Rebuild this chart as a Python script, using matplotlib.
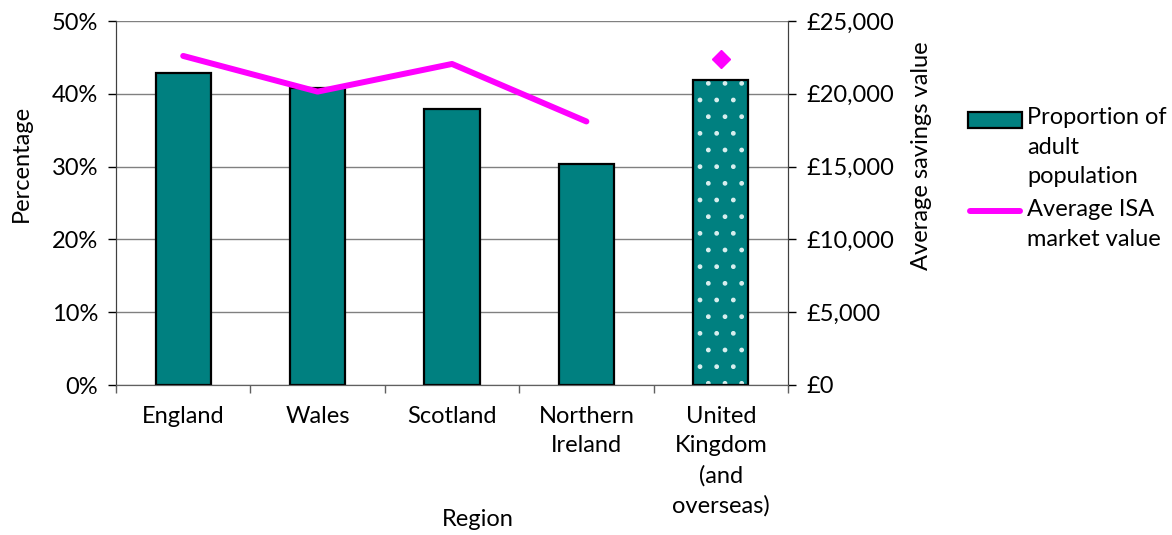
import matplotlib
matplotlib.use("Agg")
import matplotlib.pyplot as plt
from matplotlib.ticker import FuncFormatter, MultipleLocator
from matplotlib.patches import Rectangle
from matplotlib.lines import Line2D

plt.rcParams['font.family'] = ['Lato', 'DejaVu Sans']

categories = ["England", "Wales", "Scotland", "Northern\nIreland", "United\nKingdom\n(and\noverseas)"]
proportion = [42.8, 40.8, 37.9, 30.4, 41.9]          # percent of adult population
isa_value = [22600, 20150, 22050, 18100]             # regions (line)
uk_isa_value = 22400                                  # UK (diamond)
legend_labels = ["Proportion of\nadult\npopulation", "Average ISA\nmarket value"]

teal = "#008080"
magenta = "#FF00FF"
FS = 17
W, H = 1172, 535

fig = plt.figure(figsize=(W/100, H/100), dpi=100)
ax = fig.add_axes([116/W, 1 - 385/H, (788-116)/W, (385-21)/H])
ax2 = ax.twinx()

x = list(range(len(categories)))
w = 0.41
# regional bars
ax.bar(x[:4], proportion[:4], width=w, color=teal, edgecolor="black", linewidth=1.6, zorder=3)
# UK bar with dotted pattern
ax.bar(x[4], proportion[4], width=w, color=teal, edgecolor="#d8eeee", hatch=".", linewidth=0, zorder=3)
ax.bar(x[4], proportion[4], width=w, fill=False, edgecolor="black", linewidth=1.6, zorder=4)

ax.set_xlim(-0.5, len(categories) - 0.5)
ax.set_ylim(0, 50)
ax.yaxis.set_major_locator(MultipleLocator(10))
ax.yaxis.set_major_formatter(FuncFormatter(lambda v, p: f"{v:.0f}%"))
ax.grid(axis="y", color="#808080", linewidth=1.0, zorder=0)
ax.set_axisbelow(True)

ax.set_xticks(x)
ax.set_xticklabels(categories, fontsize=FS, linespacing=1.5)
ax.set_xticks([i - 0.5 for i in range(len(categories) + 1)], minor=True)
ax.tick_params(axis="x", which="major", length=0, pad=15)
ax.tick_params(axis="x", which="minor", length=6, width=1, color="#606060")
ax.tick_params(axis="y", labelsize=FS, length=6, width=1, pad=7)

ax2.plot(x[:4], isa_value, color=magenta, linewidth=4.3, solid_capstyle="round", zorder=5)
ax2.plot([x[4]], [uk_isa_value], linestyle="none", marker="D", color=magenta, markersize=9, zorder=5)
ax2.set_ylim(0, 25000)
ax2.yaxis.set_major_locator(MultipleLocator(5000))
ax2.yaxis.set_major_formatter(FuncFormatter(lambda v, p: f"£{v:,.0f}"))
ax2.tick_params(axis="y", labelsize=FS, length=6, width=1, pad=7)

for a in (ax, ax2):
    a.spines["top"].set_visible(False)
    a.spines["left"].set_color("#404040")
    a.spines["right"].set_color("#404040")
    a.spines["bottom"].set_color("#606060")

# axis titles
fig.text(21/W, 1 - 163/H, "Percentage", rotation=90, ha="center", va="center", fontsize=FS)
fig.text(922/W, 1 - 156/H, "Average savings value", rotation=90, ha="center", va="center", fontsize=FS)
fig.text(478/W, 1 - 520/H, "Region", ha="center", va="center", fontsize=FS)

# legend (drawn manually so handles align with first text line)
fig.add_artist(Rectangle((968/W, 1 - 128/H), 54/W, 16/H, transform=fig.transFigure,
                         facecolor=teal, edgecolor="black", linewidth=1.6))
fig.add_artist(Line2D([970/W, 1020/W], [1 - 211/H, 1 - 211/H], transform=fig.transFigure,
                      color=magenta, linewidth=4.3, solid_capstyle="round"))
fig.text(1027/W, 1 - 107/H, legend_labels[0], ha="left", va="top", fontsize=FS, linespacing=1.5)
fig.text(1027/W, 1 - 199/H, legend_labels[1], ha="left", va="top", fontsize=FS, linespacing=1.5)

fig.savefig("out.png", dpi=100)
